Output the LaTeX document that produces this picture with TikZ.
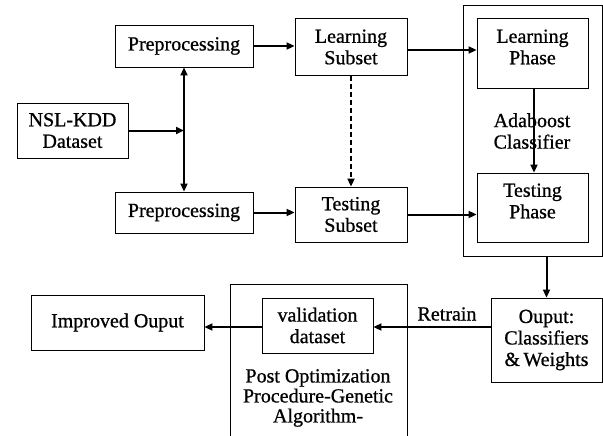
\documentclass[tikz,border=0pt]{standalone}
\usepackage{fontspec}
\setmainfont[FakeBold=0.8]{Liberation Serif}
\usetikzlibrary{arrows.meta,calc}
\begin{document}
\begin{tikzpicture}[x=1pt,y=-1pt,
  box/.style={draw, line width=0.9pt, inner sep=0pt, align=center, font=\fontsize{20}{21.5}\selectfont},
  conn/.style={line width=2pt, -{Triangle[length=8pt,width=7pt]}},
  lbl/.style={inner sep=0pt, align=center, font=\fontsize{20}{21.5}\selectfont}]
\useasboundingbox (0,0) rectangle (603,436);
% outer containers
\node[draw, line width=0.9pt, minimum width=139pt, minimum height=251pt, inner sep=0pt] (outer) at (532.5,130.5) {};
\coordinate (pl) at (230,437);
\coordinate (pr) at (407,437);
\draw[line width=0.9pt] (pl) -- (230,284) -- (407,284) -- (pr);
% boxes
\node[box, minimum width=138pt, minimum height=42pt] (pre1) at (184,46) {Preprocessing};
\node[box, minimum width=111pt, minimum height=55pt] (nsl) at (72.5,130.5) {NSL-KDD\\Dataset};
\node[box, minimum width=138pt, minimum height=41pt] (pre2) at (184,212.5) {Preprocessing};
\node[box, minimum width=112pt, minimum height=57pt] (ls) at (351,47) {Learning\\Subset};
\node[box, minimum width=112pt, minimum height=55pt] (ts) at (351,214.5) {Testing\\Subset};
\node[box, minimum width=111pt, minimum height=70pt] (lp) at (532.5,53) {};
\node[lbl] (lpt) at (532.5,47) {Learning\\Phase};
\node[box, minimum width=111pt, minimum height=69pt] (tp) at (532.5,207.5) {};
\node[lbl] (tpt) at (532.5,201) {Testing\\Phase};
\node[box, minimum width=111pt, minimum height=84pt] (out) at (546.5,340) {Ouput:\\Classifiers\\\&\,Weights};
\node[box, minimum width=111pt, minimum height=55pt] (val) at (317.5,325.5) {validation\\dataset};
\node[box, minimum width=173pt, minimum height=55pt] (imp) at (117.5,322.5) {Improved Ouput};
% labels
\node[lbl] (ada) at (532,131) {Adaboost\\Classifier};
\node[lbl] (ret) at (447,314) {Retrain};
\node[lbl, font=\fontsize{20}{20}\selectfont] (post) at (318,398) {Post Optimization\\Procedure-Genetic\\Algorithm-};
% connectors
\coordinate (j) at (pre1.south |- nsl.east);
\draw[conn] (nsl.east) -- (j);
\draw[conn, {Triangle[length=8pt,width=7pt]}-{Triangle[length=8pt,width=7pt]}] (pre1.south) -- (pre2.north);
\draw[conn] (pre1.east) -- (pre1.east -| ls.west);
\draw[conn] (pre2.east) -- (pre2.east -| ts.west);
\draw[conn, dashed, dash pattern=on 5pt off 3pt] (ls.south) -- (ts.north);
\draw[conn] ($(ls.east)+(0,3)$) -- ($(ls.east -| lp.west)+(0,3)$);
\draw[conn] (ts.east) -- (ts.east -| tp.west);
\draw[conn] ($(lp.south)+(1.5,0)$) -- ($(tp.north)+(1.5,0)$);
\draw[conn] (out.north |- outer.south) -- (out.north);
\draw[conn] ($(val.east -| out.west)+(0,1.5)$) -- ($(val.east)+(0,1.5)$);
\draw[conn] ($(val.west)+(0,1.5)$) -- ($(val.west -| imp.east)+(0,1.5)$);
\end{tikzpicture}
\end{document}
